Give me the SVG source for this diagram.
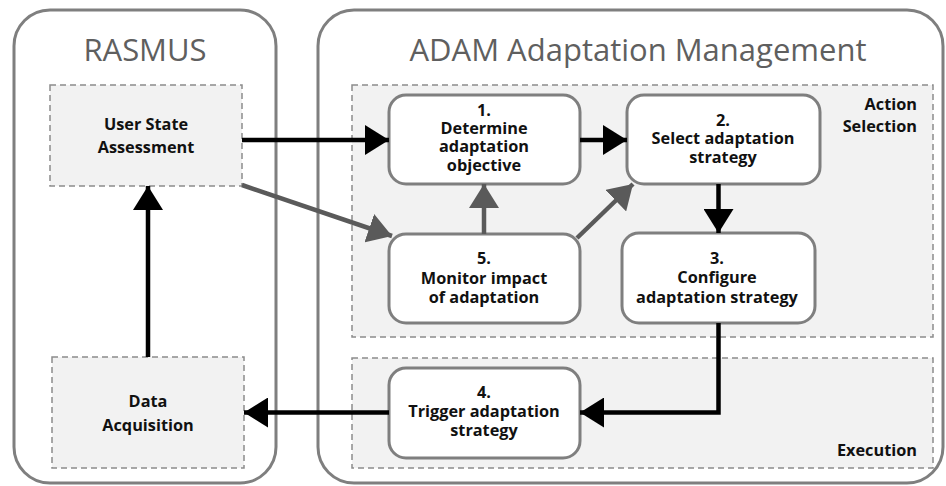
<svg xmlns="http://www.w3.org/2000/svg" width="946" height="486" viewBox="0 0 946 486">
  <defs>
    <style>
      .outer { fill: #ffffff; stroke: #7f7f7f; stroke-width: 3; }
      .region { fill: #f2f2f2; stroke: #8c8c8c; stroke-width: 1.5; stroke-dasharray: 6 4; }
      .step { fill: #ffffff; stroke: #7f7f7f; stroke-width: 3; }
      .title { font-family: "Open Sans", "DejaVu Sans", sans-serif; font-size: 31px; fill: #5f5f5f; text-anchor: middle; }
      .lbl { font-family: "Open Sans", "DejaVu Sans", sans-serif; font-size: 16.3px; font-weight: bold; fill: #111111; text-anchor: middle; }
      .tag { font-family: "Open Sans", "DejaVu Sans", sans-serif; font-size: 16.3px; font-weight: bold; fill: #111111; text-anchor: end; }
      .blk { fill: none; stroke: #000000; stroke-width: 4.5; }
      .gry { fill: none; stroke: #5a5a5a; stroke-width: 4.5; }
    </style>
    <marker id="headBlack" viewBox="0 0 24 30" refX="24" refY="15" markerWidth="24" markerHeight="30" markerUnits="userSpaceOnUse" orient="auto">
      <path d="M0,0 L24,15 L0,30 Z" fill="#000000"/>
    </marker>
    <marker id="headGrey" viewBox="0 0 24 30" refX="24" refY="15" markerWidth="24" markerHeight="30" markerUnits="userSpaceOnUse" orient="auto">
      <path d="M0,0 L24,15 L0,30 Z" fill="#5a5a5a"/>
    </marker>
  </defs>

  <!-- system containers -->
  <g id="rasmus">
    <rect class="outer" x="14" y="10" width="262" height="473" rx="36"/>
    <text class="title" x="145" y="61">RASMUS</text>
  </g>
  <g id="adam">
    <rect class="outer" x="318" y="10" width="625" height="473" rx="36"/>
    <text class="title" x="638" y="61">ADAM Adaptation Management</text>
  </g>

  <!-- phases -->
  <g id="action-selection">
    <rect class="region" x="352" y="85" width="581" height="252"/>
    <text class="tag" x="917" y="110">Action<tspan x="917" dy="22">Selection</tspan></text>
  </g>
  <g id="execution">
    <rect class="region" x="352" y="358" width="581" height="110"/>
    <text class="tag" x="917" y="456">Execution</text>
  </g>

  <!-- RASMUS components -->
  <g id="user-state-assessment">
    <rect class="region" x="50" y="85" width="192" height="101"/>
    <text class="lbl" x="146" y="130">User State<tspan x="146" dy="23">Assessment</tspan></text>
  </g>
  <g id="data-acquisition">
    <rect class="region" x="52" y="357" width="192" height="111"/>
    <text class="lbl" x="148" y="407">Data<tspan x="148" dy="24">Acquisition</tspan></text>
  </g>

  <!-- adaptation steps -->
  <g id="step1">
    <rect class="step" x="389" y="95" width="191" height="89" rx="17"/>
    <text class="lbl" x="484" y="116">1.<tspan x="484" dy="18">Determine</tspan><tspan x="484" dy="18">adaptation</tspan><tspan x="484" dy="19">objective</tspan></text>
  </g>
  <g id="step2">
    <rect class="step" x="627" y="95" width="193" height="89" rx="17"/>
    <text class="lbl" x="723" y="126">2.<tspan x="723" dy="18">Select adaptation</tspan><tspan x="723" dy="19">strategy</tspan></text>
  </g>
  <g id="step3">
    <rect class="step" x="622" y="233" width="193" height="90" rx="17"/>
    <text class="lbl" x="717" y="264">3.<tspan x="717" dy="19">Configure</tspan><tspan x="717" dy="20">adaptation strategy</tspan></text>
  </g>
  <g id="step5">
    <rect class="step" x="389" y="234" width="191" height="89" rx="17"/>
    <text class="lbl" x="484" y="264">5.<tspan x="484" dy="20">Monitor impact</tspan><tspan x="484" dy="19">of adaptation</tspan></text>
  </g>
  <g id="step4">
    <rect class="step" x="389" y="368" width="191" height="90" rx="17"/>
    <text class="lbl" x="484" y="398">4.<tspan x="484" dy="19">Trigger adaptation</tspan><tspan x="484" dy="19">strategy</tspan></text>
  </g>

  <!-- connectors -->
  <g id="connectors">
    <line class="blk" x1="148" y1="357" x2="148" y2="186" marker-end="url(#headBlack)"/>
    <line class="blk" x1="242" y1="140" x2="389" y2="140" marker-end="url(#headBlack)"/>
    <line class="blk" x1="580" y1="140" x2="627" y2="140" marker-end="url(#headBlack)"/>
    <line class="blk" x1="718.5" y1="184" x2="718.5" y2="233" marker-end="url(#headBlack)"/>
    <polyline class="blk" points="718.5,323 718.5,412.5 580,412.5" marker-end="url(#headBlack)"/>
    <line class="blk" x1="389" y1="412.5" x2="244" y2="412.5" marker-end="url(#headBlack)"/>
    <line class="gry" x1="242" y1="185" x2="392" y2="236" marker-end="url(#headGrey)"/>
    <line class="gry" x1="484" y1="234" x2="484" y2="184" marker-end="url(#headGrey)"/>
    <line class="gry" x1="577" y1="238" x2="633" y2="184" marker-end="url(#headGrey)"/>
  </g>
</svg>
